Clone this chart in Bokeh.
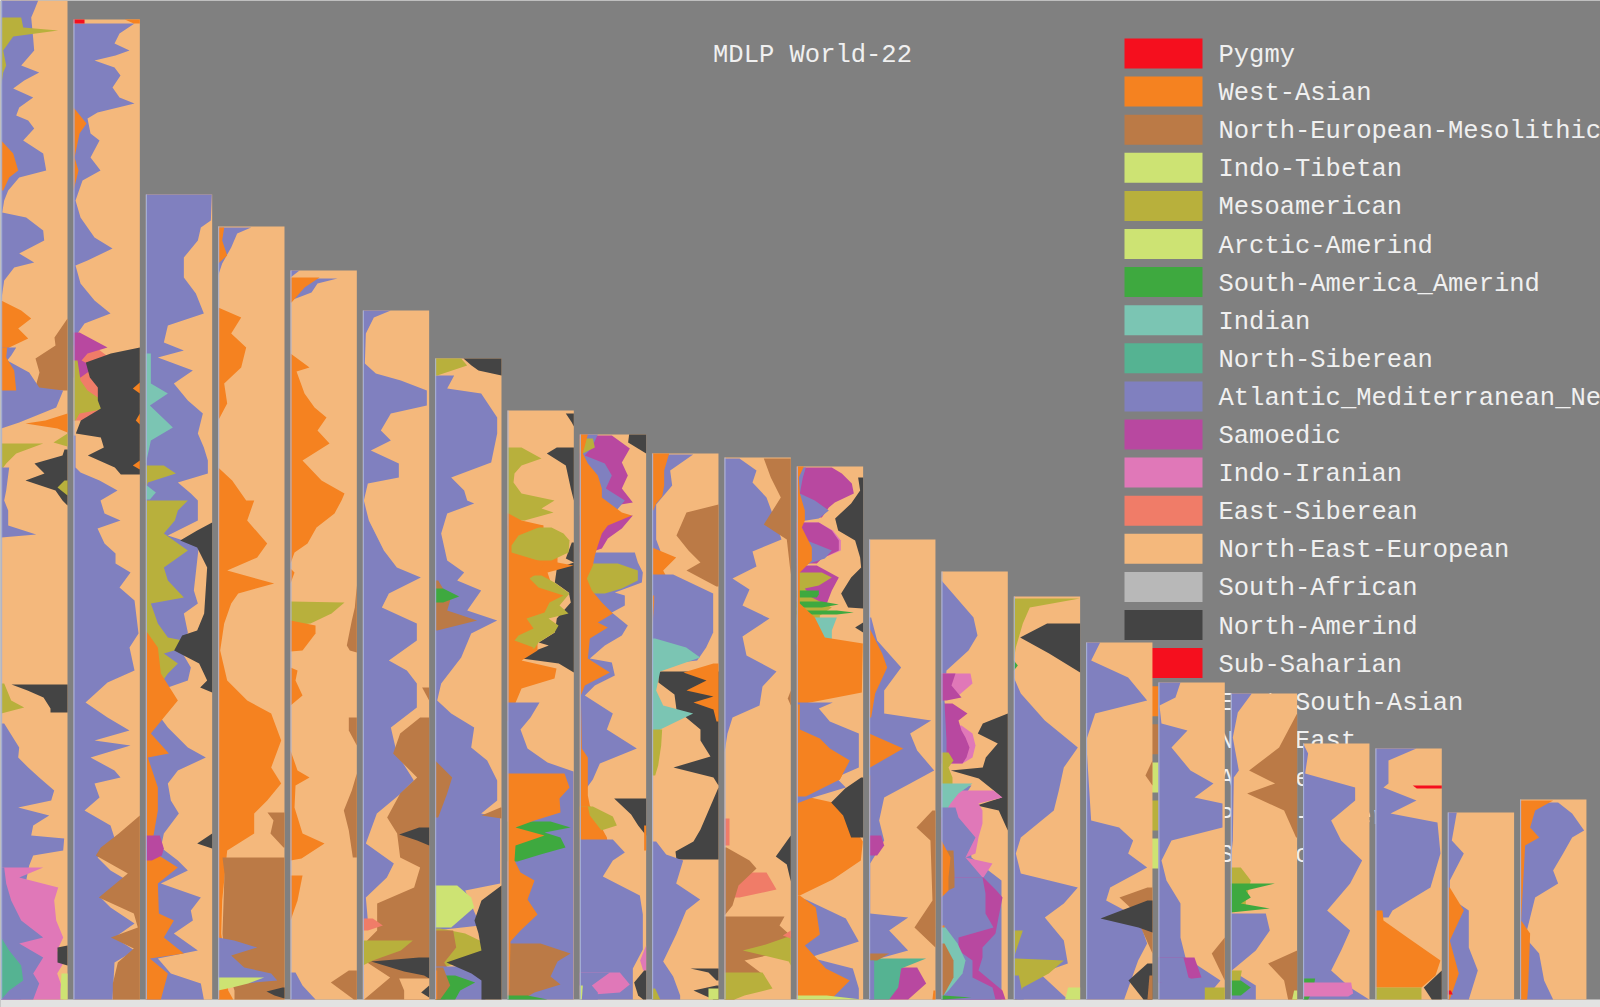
from bokeh.plotting import figure
from bokeh.models import Range1d
from bokeh.core.properties import value
from bokeh.embed import file_html
from bokeh.resources import INLINE

legend_names = ["Pygmy", "West-Asian", "North-European-Mesolithic", "Indo-Tibetan", "Mesoamerican",
                "Arctic-Amerind", "South-America_Amerind", "Indian", "North-Siberean",
                "Atlantic_Mediterranean_Neolithic", "Samoedic", "Indo-Iranian", "East-Siberean",
                "North-East-European", "South-African", "North-Amerind", "Sub-Saharian",
                "East-South-Asian", "Near-East", "Alpine", "Paleo-Siberian", "Slavic"]
legend_colors = ["#f50f1e", "#f58220", "#bb7a46", "#cde373", "#b8b03c", "#cde373", "#3ea93f", "#7bc5b3",
                 "#55b392", "#8080bf", "#b848a0", "#e078b8", "#f07c68", "#f4b87c", "#b8b8b8", "#444444",
                 "#f50f1e", "#f58220", "#bb7a46", "#cde373", "#b8b03c", "#cde373"]
COL = dict(zip(["RED", "ORG", "BRN", "ITB", "MES", "ARC", "GRN", "IND", "TEA", "BLU", "SAM", "PNK", "SIB", "NEE",
                "SAF", "BLK"], legend_colors))

column_tops = [0, 19, 194, 226, 270, 310, 358, 410, 434, 453, 457, 466, 539, 571, 596, 642, 682, 693, 743, 748, 812, 799]

# each band: population, anchored side, (row, share of the 66-unit column)
C01 = [
 ("BLU","L",[(0,37),(10,33),(17,30),(38,32),(50,33),(65,20),(72,38),(80,23),(88,12),(97,32),(107,18),(115,15),(120,27),(128,33),(140,22),(153,42),(170,45),(177,18),(190,7),(200,3),(212,1),(217,25),(230,42),(240,43),(253,18),(262,33),(267,13),(280,3),(300,0)]),
 ("MES","L",[(17,20),(27,22),(30,57),(36,12),(50,2),(65,5),(72,2),(85,0)]),
 ("ORG","L",[(140,0),(153,12),(170,17),(177,8),(190,2)]),
 ("ORG","L",[(300,0),(310,20),(318,30),(328,17),(338,27),(347,8),(357,5),(370,13),(390,15)]),
 ("BRN","R",[(318,0),(337,13),(345,12),(358,32),(372,28),(390,33)]),
 ("BLU","L",[(347,15),(355,10),(360,6),(372,28),(387,38),(390,62),(407,55),(422,18),(428,0)]),
 ("ORG","L",[(347,6),(357,5),(370,13),(390,15)]),
 ("ORG","R",[(413,0),(420,22),(423,42),(428,10),(432,0)]),
 ("MES","R",[(433,0),(442,14),(446,0)]),
 ("MES","L",[(443,42),(453,15),(463,5),(470,0)]),
 ("BLK","R",[(449,3),(455,5),(463,33),(473,23),(480,42),(490,12),(500,5),(505,0)]),
 ("MES","R",[(480,3),(487,10),(495,0)]),
 ("BLU","L",[(467,8),(490,5),(500,3),(510,7),(525,7),(534,35),(537,0)]),
 ("BLK","R",[(684,56),(690,40),(697,24),(708,17),(712,17)]),
 ("MES","L",[(683,3),(700,10),(707,23),(713,0)]),
 ("BLU","L",[(723,3),(747,18),(757,17),(767,27),(777,38),(790,53),(800,50),(807,17),(815,48),(825,32),(835,30),(838,63),(850,62),(855,32),(865,28),(880,25),(900,20),(999,20)]),
 ("PNK","L",[(867,42),(877,18),(887,57),(900,53),(920,55),(937,62),(950,56),(963,62),(973,56),(990,62),(999,62)]),
 ("BLU","L",[(867,3),(883,5),(900,10),(920,20),(937,42),(943,18),(957,42),(973,32),(983,38),(999,32)]),
 ("TEA","L",[(937,0),(950,8),(965,20),(980,22),(990,8),(999,0)]),
 ("BLK","R",[(945,0),(947,10),(962,10),(965,0)]),
 ("ITB","R",[(973,6),(990,7),(999,7)]),
]
C02 = [
 ("BLU","L",[(23,61),(33,46),(43,41),(50,56),(55,42),(60,21),(67,41),(75,47),(87,39),(97,46),(103,61),(112,24),(118,14),(133,17),(140,26),(157,17),(170,27),(180,9),(200,2),(217,7),(237,21),(248,39),(260,14),(265,2),(283,7),(300,21),(313,37),(323,11),(333,4),(345,2)]),
 ("RED","L",[(19,11),(23,11)]),
 ("ORG","R",[(19,15),(23,6)]),
 ("ORG","L",[(107,0),(123,13),(133,6),(157,1),(170,5),(190,0)]),
 ("SIB","L",[(345,20),(355,33),(368,35),(377,25),(400,28),(412,30),(420,8)]),
 ("SAM","L",[(332,6),(347,34),(353,14),(360,8),(367,21),(377,7)]),
 ("MES","L",[(360,4),(380,7),(390,14),(407,39),(413,6),(420,2)]),
 ("BLK","R",[(347,0),(353,29),(362,54),(377,50),(387,42),(400,42),(408,39),(420,59),(433,64),(437,39),(447,36),(455,52),(467,25),(474,19)]),
 ("ORG","R",[(382,0),(388,7),(393,0)]),
 ("ORG","R",[(413,0),(420,4),(424,0)]),
 ("ORG","R",[(460,0),(465,7),(469,0)]),
 ("BLU","L",[(435,2),(467,2),(472,7),(480,26),(490,44),(500,27),(513,31),(520,47),(528,24),(543,31),(553,42),(563,42),(572,57),(587,46),(600,61),(633,65),(647,56),(670,61),(682,34),(702,12),(717,34),(730,56),(740,21),(745,57),(757,17),(770,41),(777,47),(783,21),(797,26),(810,11),(825,37),(847,44),(857,24),(870,37),(880,54),(897,27),(907,37),(923,61),(937,41),(950,61),(962,41),(999,39)]),
 ("BRN","R",[(815,0),(833,21),(847,39),(855,44),(873,12),(897,41),(913,6),(927,2),(937,29),(948,6),(962,22),(983,27),(999,27)]),
]
C03 = [
 ("BLU","L",[(194,66),(220,65),(227,55),(240,52),(257,38),(277,38),(293,50),(313,58),(325,22),(342,18),(350,38),(357,12),(370,47),(383,28),(400,42),(413,57),(433,52),(447,58),(460,62),(473,62),(482,32),(493,45),(500,52),(520,52),(535,22),(545,53),(572,50),(590,48),(603,52),(613,38),(632,42),(650,35),(667,45),(680,42),(687,22),(700,2),(727,22),(747,42),(757,60),(770,32),(783,22),(800,25),(813,33),(833,18),(847,15),(860,32),(870,42),(883,15),(897,55),(910,45),(920,47),(933,28),(950,52),(958,12),(973,25),(983,55),(999,58)]),
 ("IND","L",[(353,5),(383,5),(393,22),(405,4),(427,27),(440,5),(463,0)]),
 ("MES","L",[(465,18),(473,30),(482,2),(490,0)]),
 ("IND","L",[(485,1),(492,10),(499,4)]),
 ("MES","L",[(500,42),(510,32),(520,29),(533,18),(550,42),(567,18),(580,22),(597,38),(603,5),(623,12),(637,22),(643,52),(653,18),(663,32),(673,22),(683,15),(690,0)]),
 ("ORG","L",[(630,0),(647,12),(673,15),(700,32),(717,18),(733,5),(753,23),(757,2),(787,12),(810,12),(850,5),(867,32),(883,12),(913,13),(920,28),(937,18),(953,38),(958,4),(973,22),(999,15)]),
 ("SAM","L",[(835,14),(848,18),(855,16),(860,6)]),
 ("BLK","R",[(522,0),(530,15),(540,32),(547,15),(567,5),(613,8),(630,15),(635,30),(650,38),(663,13),(680,5),(687,12),(692,0)]),
 ("BLK","R",[(833,0),(843,15),(848,0)]),
]
C04 = [
 ("BLU","L",[(227,33),(233,19),(247,13),(263,4),(275,0)]),
 ("ORG","L",[(227,6),(240,4),(255,9),(263,0)]),
 ("ORG","L",[(307,0),(317,23),(333,13),(347,28),(367,23),(383,6),(403,9),(420,0)]),
 ("ORG","L",[(467,0),(480,14),(500,28),(500,36),(520,29),(543,49),(557,39),(570,9),(583,56),(593,20),(603,13),(623,6),(650,2),(680,9),(700,29),(713,53),(740,63),(767,53),(783,63),(800,49),(813,36),(833,36),(850,9),(900,4),(933,3),(977,9),(990,10),(999,15)]),
 ("BRN","R",[(812,17),(820,11),(833,14),(847,1)]),
 ("BRN","R",[(857,62),(873,60),(933,62),(960,60),(990,50),(999,50)]),
 ("BLU","L",[(937,0),(940,16),(947,39),(955,13),(967,26),(973,53),(980,59),(985,3)]),
 ("ITB","L",[(977,46),(983,30),(987,14),(990,0)]),
 ("BLK","R",[(987,2),(991,18),(995,10),(998,0)]),
]
C05 = [
 ("BLU","L",[(270,9),(277,0)]),
 ("BLU","L",[(278,47),(283,27),(292,21),(300,0)]),
 ("ORG","L",[(277,29),(287,14),(302,1)]),
 ("ORG","L",[(353,0),(367,19),(371,6),(393,14),(407,24),(417,36),(430,27),(443,39),(460,12),(480,31),(493,54),(500,51),(513,44),(527,26),(543,17),(552,4),(563,0)]),
 ("ORG","L",[(568,0),(572,4),(583,0)]),
 ("MES","L",[(601,0),(602,54),(613,41),(623,20),(625,0)]),
 ("ORG","L",[(620,0),(625,25),(633,25),(650,12),(651,0)]),
 ("ORG","L",[(667,0),(670,7),(680,5),(695,12),(705,0)]),
 ("ORG","L",[(750,0),(770,7),(777,19),(785,5),(807,4),(833,12),(843,34),(858,11),(860,0)]),
 ("ORG","L",[(875,12),(900,7),(920,0)]),
 ("BLU","L",[(972,5),(985,12),(999,25)]),
 ("BRN","R",[(585,0),(607,2),(620,5),(645,10),(650,7),(652,0)]),
 ("BRN","R",[(717,8),(730,8),(745,0)]),
 ("BRN","R",[(773,0),(790,5),(810,13),(830,8),(857,4)]),
 ("BRN","R",[(970,8),(982,26),(999,3)]),
]
C06 = [
 ("BLU","L",[(310,28),(317,11),(333,3),(363,2),(373,13),(380,38),(390,64),(405,64),(413,28),(430,18),(440,28),(450,8),(463,36),(477,36),(483,5),(500,1),(520,6),(550,21),(567,34),(577,58),(593,26),(607,19),(623,54),(640,54),(660,26),(670,44),(683,54),(707,54),(727,28),(753,34),(780,51),(793,38),(813,14),(843,3),(863,31),(877,24),(897,3),(920,5)]),
 ("BRN","R",[(687,7),(700,0)]),
 ("BRN","R",[(717,9),(733,29),(753,36),(777,12),(793,29),(817,42),(833,32),(857,29),(867,9),(887,15),(903,52),(930,52),(940,62),(960,65),(977,39),(999,65)]),
 ("BLK","R",[(827,10),(834,30),(840,12),(845,0)]),
 ("SIB","L",[(918,10),(925,20),(930,5)]),
 ("MES","L",[(940,50),(950,38),(960,10),(965,0)]),
 ("BLK","R",[(957,10),(961,58),(971,25),(975,5),(978,0)]),
 ("NEE","R",[(978,30),(990,25),(999,25)]),
 ("BLK","R",[(985,0),(992,8),(997,0)]),
]
C07 = [
 ("BLU","L",[(375,19),(388,12),(393,46),(417,62),(433,62),(462,56),(477,16),(490,29),(500,32),(503,39),(513,12),(533,6),(560,12),(572,29),(580,22),(590,46),(610,32),(620,62),(633,36),(657,26),(683,6),(700,2),(713,16),(727,39),(747,36),(760,52),(780,62),(800,62),(813,46),(817,65),(883,65),(890,30),(925,45),(930,0)]),
 ("MES","L",[(358,26),(365,32),(375,2)]),
 ("BLK","R",[(358,38),(365,30),(370,23),(375,0)]),
 ("BRN","L",[(580,3),(600,15),(610,12),(620,42),(630,2)]),
 ("GRN","L",[(588,8),(596,24),(602,8)]),
 ("BRN","L",[(760,0),(777,17),(793,12),(817,3)]),
 ("BRN","R",[(807,1),(815,20),(818,0)]),
 ("ITB","L",[(885,22),(897,36),(907,39),(927,16)]),
 ("MES","L",[(928,5),(933,30),(947,59),(960,30),(968,5)]),
 ("BRN","L",[(930,18),(947,21),(962,9),(973,16),(985,22),(999,10)]),
 ("BLU","L",[(966,45),(985,55),(999,50)]),
 ("GRN","L",[(975,20),(982,40),(990,25),(999,20)]),
 ("BRN","L",[(967,8),(985,15),(999,5)]),
 ("ORG","L",[(970,2),(999,2)]),
 ("BLK","R",[(885,0),(900,20),(920,27),(933,23),(950,20),(962,55),(973,30),(980,20),(999,20)]),
]
C08 = [
 ("MES","L",[(447,14),(458,34),(465,14),(473,7),(482,6),(493,14),(500,47),(508,34),(512,46),(520,17)]),
 ("BLK","R",[(413,8),(422,2),(426,0)]),
 ("BLK","R",[(447,17),(453,27),(465,8),(488,3),(500,0)]),
 ("BLK","R",[(542,2),(558,8),(562,0)]),
 ("BLK","R",[(562,0),(568,17),(582,19),(592,5),(602,3),(618,17),(632,19),(642,35),(645,25),(653,46),(658,52),(663,15),(672,0)]),
 ("ORG","L",[(513,1),(520,14),(525,36),(535,36),(552,50),(562,50),(565,66),(572,40),(587,45),(595,56),(602,45),(618,35),(640,30),(650,30),(660,14),(668,49),(678,47),(688,14),(700,9),(721,0)]),
 ("MES","L",[(527,44),(533,56),(540,62),(552,61),(560,44)]),
 ("MES","L",[(575,34),(582,47),(593,62),(605,52),(613,61),(618,41),(625,51),(632,47),(642,31),(648,27)]),
 ("ORG","L",[(525,36),(535,11),(545,4),(552,4),(562,37),(572,31),(578,22),(587,31),(595,56),(602,42),(612,37),(618,19),(628,26),(635,11),(640,7),(647,26),(653,17),(660,14)]),
 ("BLU","L",[(702,32),(717,23),(729,13),(748,20),(762,40),(771,66),(999,66)]),
 ("GRN","L",[(821,43),(827,63),(832,37),(837,53),(847,58),(854,33),(861,10)]),
 ("BRN","L",[(943,33),(953,63),(961,50),(976,43),(984,53),(992,27),(996,20)]),
 ("ORG","L",[(773,57),(787,62),(798,52),(812,53),(820,27),(827,8),(835,37),(845,8),(860,7),(872,13),(880,27),(899,20),(914,30),(930,13),(941,3),(988,2),(999,0)]),
 ("GRN","L",[(995,20),(999,40)]),
]
C09 = [
 ("SAM","L",[(435,32),(448,50),(462,42),(475,48),(488,42),(502,53),(505,35)]),
 ("BLU","L",[(434,18),(447,12),(455,5),(463,25),(475,32),(488,26),(500,45),(512,35),(514,10)]),
 ("SAM","L",[(515,53),(528,42),(538,28),(548,22),(552,10)]),
 ("BLU","L",[(552,55),(562,58),(572,63),(582,62),(592,35),(595,45),(605,45),(612,32),(625,48),(635,42),(645,25),(658,10),(662,32),(675,35),(685,15),(695,5),(713,33),(729,27),(748,57),(763,20),(779,13),(790,5)]),
 ("MES","L",[(563,38),(570,58),(580,58),(588,42),(593,25)]),
 ("MES","L",[(438,13),(447,15),(453,3)]),
 ("ORG","L",[(434,8),(453,3),(463,8),(475,18),(488,22),(497,22),(512,42),(515,52),(525,28),(533,22),(545,18),(555,15),(565,13),(578,7),(590,12),(602,22),(613,33),(622,18),(627,28),(638,10),(658,8),(672,30),(685,5),(695,1),(748,2),(757,8),(795,8),(805,10),(837,27),(856,30),(860,8),(883,13),(885,0)]),
 ("BLK","R",[(434,17),(442,18),(453,0)]),
 ("MES","L",[(806,13),(816,33),(825,37),(832,15)]),
 ("ORG","L",[(806,8),(815,10),(837,27)]),
 ("BLK","R",[(798,32),(814,15),(825,8),(835,0)]),
 ("ORG","R",[(825,2),(850,2)]),
 ("BLU","L",[(839,33),(852,45),(860,33),(876,23),(895,60),(914,63),(949,63),(968,53),(995,53),(999,53)]),
 ("PNK","L",[(972,40),(984,50),(992,40),(995,0)]),
 ("BLU","L",[(972,30),(985,12),(992,18),(999,18)]),
 ("PNK","R",[(945,0),(960,6),(970,3)]),
 ("BLK","R",[(970,2),(982,12),(995,8),(999,3)]),
 ("ITB","L",[(985,3),(999,2)]),
]
C10 = [
 ("BLU","L",[(454,41),(470,18),(485,20),(504,4),(539,4),(555,10)]),
 ("ORG","L",[(453,17),(470,12),(485,12),(496,10),(503,4),(510,1)]),
 ("BRN","R",[(504,0),(512,32),(535,42),(550,30),(562,18),(570,32),(586,2)]),
 ("ORG","L",[(547,0),(557,24),(570,11),(589,21),(599,29),(600,0)]),
 ("BLU","L",[(574,21),(593,61),(632,61),(647,54),(660,45),(665,0)]),
 ("ORG","L",[(595,2),(602,2),(630,0)]),
 ("BLK","R",[(671,60),(682,60),(694,44),(709,42),(729,18),(740,18),(756,8),(767,45),(777,5),(785,0)]),
 ("ORG","R",[(663,5),(672,35),(680,12),(690,32),(696,5),(702,25),(709,5),(721,2)]),
 ("IND","L",[(638,3),(647,34),(657,48),(671,8),(690,4),(705,11),(713,41),(729,8),(740,5)]),
 ("MES","L",[(729,10),(745,9),(765,6),(775,3)]),
 ("BLK","R",[(787,0),(829,18),(841,25),(851,43),(859,42)]),
 ("BLU","L",[(841,4),(854,14),(860,31),(883,24),(899,48),(910,34),(934,24),(961,11),(976,21),(995,28),(999,28)]),
 ("BLK","R",[(968,28),(972,10),(980,2)]),
 ("BLK","R",[(985,2),(990,25),(999,5)]),
 ("ITB","R",[(988,10),(999,10)]),
 ("MES","L",[(988,3),(999,8)]),
]
C11 = [
 ("BLU","L",[(458,15),(470,32),(482,28),(497,42),(524,52),(539,57),(551,28),(566,32),(578,8),(589,25),(605,18),(618,45),(636,18),(655,22),(671,52),(686,38),(705,35),(717,8),(733,3),(752,0)]),
 ("BRN","R",[(458,27),(477,20),(497,10),(524,27),(539,4),(574,0)]),
 ("BRN","R",[(690,0),(698,3),(705,0)]),
 ("BLK","R",[(835,0),(856,15),(864,4),(881,0)]),
 ("SIB","L",[(818,5),(845,5)]),
 ("SIB","L",[(872,42),(889,52),(897,15)]),
 ("BRN","L",[(847,2),(860,25),(868,32),(885,14),(905,8),(915,0)]),
 ("BRN","L",[(916,60),(925,55),(934,65),(950,65),(960,20),(975,40),(990,5),(999,10)]),
 ("MES","R",[(936,2),(944,25),(950,48),(961,2),(965,0)]),
 ("MES","L",[(972,38),(988,48),(995,20),(999,10)]),
 ("SIB","R",[(930,0),(935,8),(938,0)]),
]
C12 = [
 ("SAM","L",[(467,35),(473,45),(483,55),(493,57),(502,38),(507,32),(517,25)]),
 ("BLU","L",[(467,9),(477,6),(493,3),(500,18),(510,32),(518,22),(521,3)]),
 ("PNK","L",[(522,22),(530,36),(540,44),(550,44),(558,25)]),
 ("SAM","L",[(522,22),(530,35),(540,42),(550,42),(558,25),(563,20)]),
 ("BLU","L",[(527,5),(540,10),(550,35),(558,28),(565,6)]),
 ("SAM","L",[(565,20),(577,42),(590,35),(603,30)]),
 ("MES","L",[(572,25),(577,35),(585,22),(588,8),(597,15),(607,35),(615,23),(625,23)]),
 ("GRN","L",[(590,22),(594,22),(597,20)]),
 ("GRN","L",[(601,25),(604,42),(607,25)]),
 ("GRN","L",[(610,40),(612,57),(614,40)]),
 ("IND","L",[(617,40),(630,35),(640,35),(644,20)]),
 ("BLK","R",[(477,5),(490,3),(503,12),(518,28),(530,25),(540,8),(557,3),(567,2),(577,12),(593,22),(607,15),(608,0)]),
 ("BLK","R",[(622,0),(627,8),(632,0)]),
 ("ORG","L",[(466,7),(477,2),(493,3),(510,8),(520,8),(527,5),(547,15),(560,15),(572,3),(603,3),(617,18),(637,28),(643,66),(692,65),(704,3),(729,3),(738,23),(748,33),(760,53),(779,43),(796,9),(802,36),(821,53),(841,66),(860,64),(879,36),(895,3)]),
 ("BLU","L",[(702,36),(708,22),(721,33),(733,62),(767,62),(777,39),(787,49),(798,13),(803,0)]),
 ("ORG","L",[(704,3),(729,3),(738,23),(748,33),(760,53),(779,43),(796,9)]),
 ("BLK","R",[(777,2),(788,18),(802,32),(815,20),(837,12)]),
 ("BLU","L",[(899,9),(918,49),(941,62),(957,13),(968,56),(988,62),(999,62)]),
 ("ORG","L",[(895,3),(907,19),(934,23),(945,8),(968,29),(980,53),(997,36),(999,36)]),
 ("ITB","L",[(995,30),(999,65)]),
]
C13 = [
 ("BLU","L",[(617,2),(640,8),(667,32),(690,15),(713,15),(720,62),(733,41),(750,48),(770,65),(783,41),(797,15),(820,10),(840,15),(863,1),(913,1),(917,39),(930,20),(950,39),(958,10)]),
 ("ORG","L",[(627,0),(653,13),(667,18),(693,6),(717,2)]),
 ("ORG","L",[(733,0),(748,34),(767,1)]),
 ("ORG","L",[(775,1),(830,1),(850,0)]),
 ("BRN","R",[(810,3),(827,19),(840,5),(900,3),(927,21),(947,0)]),
 ("SAM","L",[(835,12),(845,15),(855,8)]),
 ("SAM","L",[(967,48),(983,57),(999,39)]),
 ("TEA","L",[(958,57),(968,32),(987,29),(999,20)]),
 ("BRN","L",[(953,20),(960,8)]),
 ("BLU","L",[(960,5),(999,5)]),
 ("ORG","R",[(990,2),(999,3)]),
]
C14 = [
 ("BLU","L",[(580,0),(617,32),(635,36),(650,27),(660,16),(670,5),(700,3),(753,5)]),
 ("PNK","L",[(673,29),(683,31),(695,17)]),
 ("SAM","L",[(673,14),(685,10),(697,20),(700,5)]),
 ("PNK","L",[(725,20),(733,31),(745,34),(757,31),(763,21)]),
 ("SAM","L",[(703,11),(713,26),(720,17),(730,20),(737,24),(747,28),(757,25),(763,21)]),
 ("BLU","L",[(702,3),(740,5),(753,5)]),
 ("MES","L",[(752,7),(760,12),(767,7),(777,11),(787,11),(800,1)]),
 ("BLK","R",[(713,0),(723,25),(733,30),(743,10),(757,22),(767,25),(770,57),(778,29),(790,14),(797,6),(805,31),(810,9),(830,0)]),
 ("BLU","L",[(785,30),(800,20),(815,25),(857,30),(880,60),(999,60)]),
 ("PNK","L",[(790,52),(797,61),(803,37),(810,41),(823,41),(837,37),(853,34),(857,24),(863,51),(877,42)]),
 ("IND","L",[(783,31),(793,17),(803,9),(817,1)]),
 ("BLU","L",[(807,14),(817,17),(837,34),(857,24),(877,41)]),
 ("SAM","L",[(877,42),(890,55),(897,61),(917,57),(933,54),(947,41),(957,41),(970,37),(990,61),(999,64)]),
 ("BLU","L",[(877,41),(893,44),(913,44),(927,52),(937,17),(950,17),(960,31),(977,31),(987,51),(999,54)]),
 ("BRN","L",[(850,12),(873,13),(887,13),(893,0)]),
 ("ORG","L",[(840,0),(857,9),(877,7),(890,7),(897,0)]),
 ("ORG","L",[(925,3),(935,3),(943,0)]),
 ("IND","L",[(927,4),(943,16),(960,24),(973,21),(990,7),(995,2)]),
 ("BRN","L",[(943,3),(960,12),(977,12),(995,2)]),
 ("GRN","L",[(995,2),(997,30),(999,2)]),
]
C15 = [
 ("BLU","L",[(677,0),(693,7),(720,31),(747,64),(767,50),(790,45),(810,40),(837,7),(853,2),(873,7),(887,64),(903,50),(917,31),(940,50),(963,54),(973,26),(999,54)]),
 ("MES","L",[(598,66),(607,16),(623,9),(647,2),(660,0)]),
 ("BLK","R",[(623,33),(637,60),(653,31),(672,0)]),
 ("GRN","L",[(660,0),(665,4),(670,0)]),
 ("MES","L",[(930,9),(957,0)]),
 ("MES","L",[(958,2),(960,50),(973,35),(987,9),(999,3)]),
 ("BLU","L",[(975,5),(999,10)]),
 ("ITB","R",[(987,12),(999,15)]),
]
C16 = [
 ("BLU","L",[(642,14),(660,5),(677,42),(700,61),(713,9),(740,0),(820,5),(827,33),(840,47),(853,42),(867,61),(887,24),(900,20),(917,52),(943,61),(960,52),(999,38)]),
 ("BRN","R",[(887,5),(897,33),(910,19),(953,0)]),
 ("BRN","R",[(760,0),(775,7),(785,0)]),
 ("BLK","R",[(900,5),(918,52),(927,14),(932,0)]),
 ("BLK","R",[(963,5),(980,24),(999,9)]),
 ("BRN","R",[(975,3),(999,5)]),
]
C17 = [
 ("BLU","L",[(682,22),(697,17),(705,1),(723,3),(730,29),(747,13),(770,32),(783,55),(797,36),(803,64),(827,64),(840,13),(860,3),(880,8),(903,22),(937,22),(957,27),(980,62),(999,46)]),
 ("SAM","L",[(957,36),(977,43),(982,0)]),
 ("BLU","L",[(957,25),(977,30),(982,40)]),
 ("BRN","R",[(937,0),(953,13),(980,0)]),
 ("MES","R",[(987,20),(999,20)]),
]
C18 = [
 ("BLU","L",[(693,21),(712,7),(737,2),(770,8),(777,3),(840,2),(860,0)]),
 ("BRN","R",[(713,0),(747,18),(770,48),(783,22),(793,50),(810,13),(837,1)]),
 ("MES","L",[(867,10),(880,20),(900,15),(910,15)]),
 ("GRN","L",[(883,44),(890,15),(897,20),(903,10),(908,39),(912,0)]),
 ("BLU","L",[(913,35),(930,39),(950,25),(970,1),(985,25),(999,25)]),
 ("MES","L",[(970,11),(987,8)]),
 ("GRN","L",[(980,10),(987,20),(995,10)]),
 ("BRN","R",[(950,0),(963,29),(980,13),(999,9)]),
 ("ITB","R",[(990,3),(999,5)]),
]
C19 = [
 ("BLU","L",[(743,0),(753,5),(773,2),(787,52),(800,52),(820,28),(840,38),(860,59),(883,47),(910,24),(930,47),(950,38),(970,28),(987,47),(999,66)]),
 ("GRN","L",[(978,12),(990,10),(999,5)]),
 ("PNK","L",[(982,48),(993,50),(996,45)]),
]
C20 = [
 ("BLU","L",[(748,41),(760,13),(783,13),(787,8),(800,41),(813,15),(822,62),(853,65),(887,55),(910,17),(917,13)]),
 ("RED","R",[(785,29),(788,25)]),
 ("ORG","L",[(910,7),(920,8),(937,32),(960,65),(975,60),(987,46)]),
 ("MES","L",[(987,46),(999,46)]),
 ("BLK","R",[(970,0),(987,18),(999,10)]),
]
C21 = [
 ("BLU","L",[(812,9),(840,4),(853,16),(880,2),(897,2),(910,21),(947,21),(970,30),(999,21)]),
 ("ORG","L",[(887,2),(910,16),(940,2),(973,11),(999,2)]),
 ("RED","L",[(990,3),(994,5)]),
]
C22 = [
 ("BLU","L",[(802,38),(813,52),(830,64),(837,52),(853,43),(870,33),(883,38),(897,15),(937,5),(953,19),(980,24),(999,33)]),
 ("ORG","L",[(800,33),(810,15),(827,10),(837,19),(845,5),(920,1),(933,10),(987,8),(999,7)]),
]
columns = [C01, C02, C03, C04, C05, C06, C07, C08, C09, C10, C11, C12, C13, C14, C15, C16, C17, C18, C19, C20, C21, C22]

PITCH, FIRST, WIDE, BASE = 72.33, 0.7, 66.3, 999
xs, ys, colors = [], [], []
edge_x, edge_top = [], []
for i, (top, bands) in enumerate(zip(column_tops, columns)):
    left = FIRST + PITCH * i
    xs.append([left, left + WIDE, left + WIDE, left]); ys.append([top, top, BASE, BASE]); colors.append(COL["NEE"])
    edge_x.append(left + .5); edge_top.append(top)
    for pop, side, pts in bands:
        rows = [r for r, s in pts]
        ext = [min(s, WIDE) for r, s in pts]
        if side == "L":
            bx = [left + e for e in ext] + [left, left]
        else:
            bx = [left + WIDE - e for e in ext] + [left + WIDE, left + WIDE]
        xs.append(bx); ys.append(rows + [rows[-1], rows[0]]); colors.append(COL[pop])

p = figure(width=1600, height=1007, output_backend="svg", toolbar_location=None,
           x_range=Range1d(0, 1600), y_range=Range1d(1007, 0), min_border=0,
           background_fill_color="#808080", border_fill_color="#808080", outline_line_color=None,
           styles={"position": "absolute", "left": "0", "top": "0"})
p.axis.visible = False
p.grid.visible = False

p.quad(left=[0], right=[1600], top=[BASE], bottom=[1007], color="#e2e2e2", line_color=None)

n = len(legend_names)
rows = [53 + 38.1 * k for k in range(n)]
p.quad(left=[1124] * n, right=[1202] * n, top=[r - 15 for r in rows], bottom=[r + 15 for r in rows],
       color=legend_colors, line_color=None)
font = value("Liberation Mono")
p.text(x=[1218] * n, y=[r + 2 for r in rows], text=legend_names, text_color="#f0f0f0", text_font=font,
       text_font_size="25.5px", text_baseline="middle")
p.text(x=[812], y=[55], text=["MDLP World-22"], text_color="#f0f0f0", text_font=font,
       text_font_size="25.5px", text_align="center", text_baseline="middle")

p.patches(xs=xs, ys=ys, color=colors, line_color=None)
p.segment(x0=edge_x, x1=edge_x, y0=edge_top, y1=[BASE] * len(edge_x), color="#a9b5d8", line_width=1)

open("out.html", "w").write(file_html(p, INLINE))
